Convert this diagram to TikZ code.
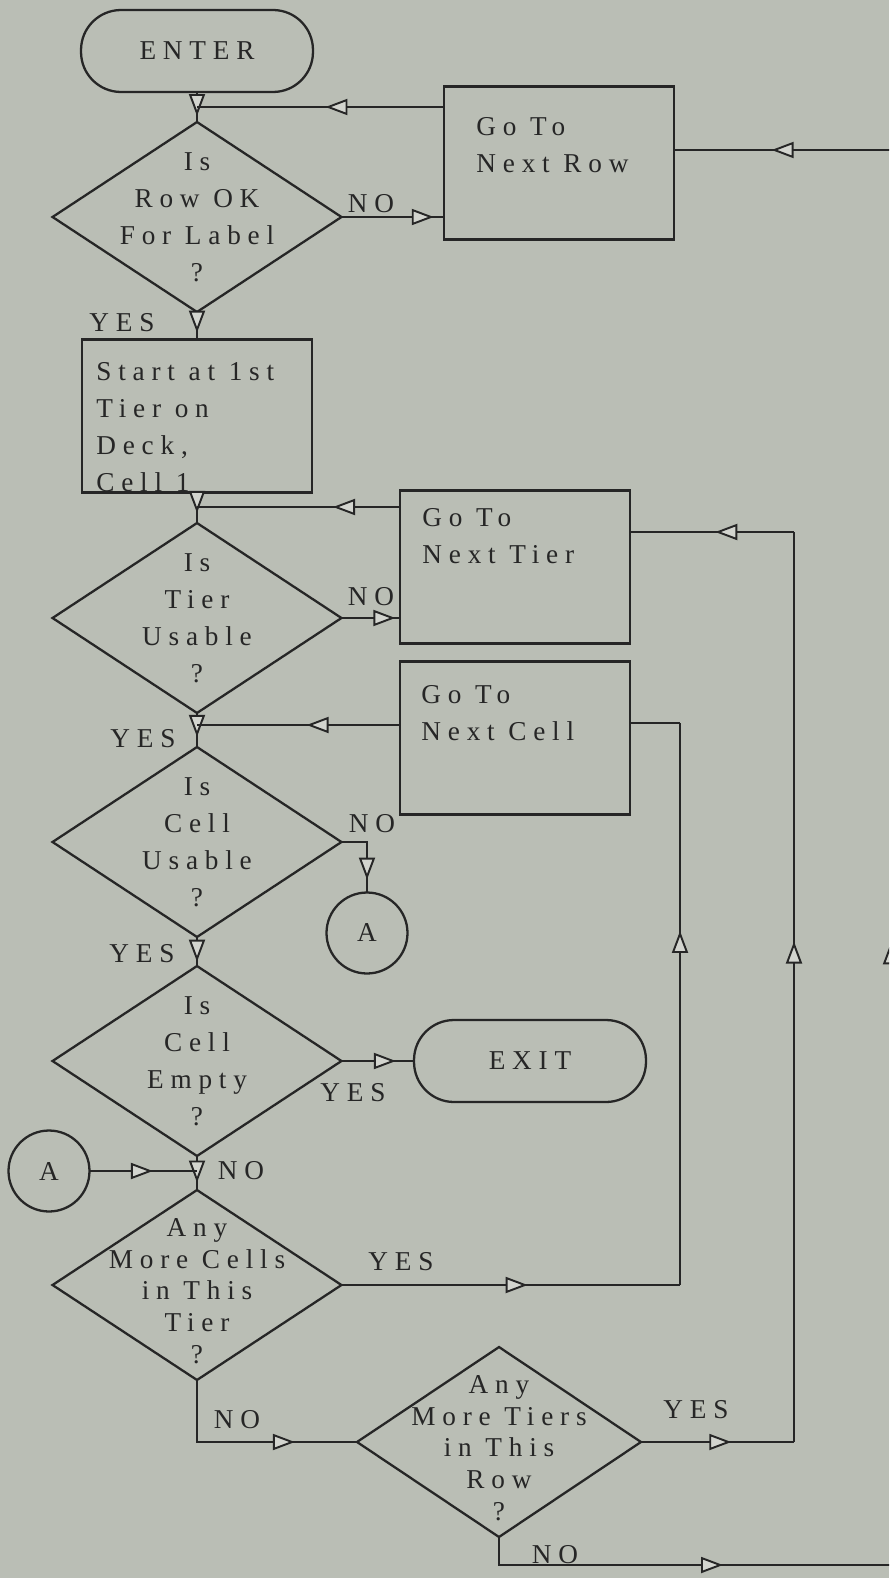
\documentclass[tikz,border=0pt]{standalone}
\usepackage{fontspec}
\setmainfont[LetterSpace=25]{Liberation Serif}
\usetikzlibrary{arrows.meta,shapes.geometric,decorations.markings}
\definecolor{paper}{HTML}{BABEB5}
\definecolor{ink}{HTML}{262626}
\definecolor{tipfill}{HTML}{D3D5CF}

\begin{document}
\begin{tikzpicture}[x=0.02cm,y=-0.02cm,>={Triangle[length=0.44cm,width=0.32cm,fill=tipfill]},
  every node/.style={font=\fontsize{15.5}{21}\selectfont,text=ink},
  flow/.style={draw=ink,line width=1.1pt},
  tipat/.style={postaction={decorate},decoration={markings,mark=at position #1 with {\arrow{>}}}},
  decision/.style={diamond,draw=ink,line width=1.3pt,minimum width=5.78cm,minimum height=3.8cm,inner sep=0pt,outer sep=0pt},
  procbox/.style={draw=ink,line width=1.3pt,minimum width=4.6cm,minimum height=3.06cm,inner sep=0pt,outer sep=0pt},
  terminal/.style={draw=ink,line width=1.3pt,rounded corners=0.8cm,minimum width=4.64cm,minimum height=1.64cm,outer sep=0pt},
  onpage/.style={circle,draw=ink,line width=1.3pt,minimum size=1.62cm,inner sep=0pt,outer sep=0pt},
  boxtext/.style={anchor=north west,align=left,inner sep=0pt},
  qtext/.style={align=center,inner sep=0pt},
  qfive/.style={align=center,inner sep=0pt,font=\fontsize{15.5}{18}\selectfont,yshift=-0.12cm},
  yn/.style={inner sep=0pt}]
\useasboundingbox (0,0) rectangle (889,1578);
\clip (0,0) rectangle (889,1578);
\fill[paper] (0,0) rectangle (889,1578);

\node[terminal] (enter) at (197,51) {ENTER};
\node[decision,label={[qtext]center:Is\\Row OK\\For Label\\?}] (d1) at (197,217) {};
\node[procbox,label={[boxtext,shift={(32,31)}]north west:Go To\\Next Row}] (rowbox) at (559,163) {};
\node[procbox,label={[boxtext,shift={(14,23)}]north west:Start at 1st\\Tier on\\Deck,\\Cell 1}] (start) at (197,416) {};
\node[decision,label={[qtext]center:Is\\Tier\\Usable\\?}] (d2) at (197,618) {};
\node[procbox,label={[boxtext,shift={(22,18)}]north west:Go To\\Next Tier}] (tierbox) at (515,567) {};
\node[procbox,label={[boxtext,shift={(21,24)}]north west:Go To\\Next Cell}] (cellbox) at (515,738) {};
\node[decision,label={[qtext]center:Is\\Cell\\Usable\\?}] (d3) at (197,842) {};
\node[onpage] (a1) at (367,933) {A};
\node[decision,label={[qtext]center:Is\\Cell\\Empty\\?}] (d4) at (197,1061) {};
\node[terminal] (exit) at (530,1061) {EXIT};
\node[onpage] (a2) at (49,1171) {A};
\node[decision,label={[qfive]center:Any\\More Cells\\in This\\Tier\\?}] (d5) at (197,1285) {};
\node[decision,minimum width=5.68cm,label={[qfive]center:Any\\More Tiers\\in This\\Row\\?}] (d6) at (499,1442) {};

\coordinate (j1) at (197,107);
\coordinate (j2) at (197,507);
\coordinate (j3) at (197,725);
\coordinate (j4) at (197,1171);
\coordinate (celltop) at (680,723);
\coordinate (cellbot) at (680,1285);
\coordinate (tiertop) at (794,532);
\coordinate (tierbot) at (794,1442);
\coordinate (rowtop) at (891,150);
\coordinate (rowbot) at (891,1565);

\draw[flow,tipat=0.8] (enter) -- (d1);
\draw[flow,tipat=0.48] (rowbox.west |- j1) -- (j1);
\draw[flow,tipat=0.9] (d1) -- (rowbox.west |- d1);
\draw[flow,tipat=0.75] (d1) -- (start);
\draw[flow,tipat=0.67] (start) -- (d2);
\draw[flow,tipat=0.33] (tierbox.west |- j2) -- (j2);
\draw[flow,tipat=0.92] (d2) -- (tierbox.west |- d2);
\draw[flow,tipat=0.7] (d2) -- (d3);
\draw[flow,tipat=0.46] (cellbox.west |- j3) -- (j3);
\draw[flow,tipat=0.83] (d3.east) -| (a1);
\draw[flow,tipat=0.85] (d3) -- (d4);
\draw[flow,tipat=0.75] (d4) -- (exit);
\draw[flow,tipat=0.78] (d4) -- (d5);
\draw[flow,tipat=0.59] (a2) -- (j4);
\draw[flow,tipat=0.55] (d5.east) -- (cellbot);
\draw[flow,tipat=0.63] (cellbot) -- (celltop);
\draw[flow] (celltop) -- (cellbox.east |- celltop);
\draw[flow,tipat=0.72] (d5.south) |- (d6.west);
\draw[flow,tipat=0.59] (d6.east) -- (tierbot);
\draw[flow,tipat=0.55] (tierbot) -- (tiertop);
\draw[flow,tipat=0.48] (tiertop) -- (tierbox.east |- tiertop);
\draw[flow,tipat=0.6] (d6.south) |- (rowbot);
\draw[flow,tipat=0.44] (rowbot) -- (rowtop);
\draw[flow,tipat=0.55] (rowtop) -- (rowbox.east |- rowtop);

\node[yn] (yes1) at (122,323) {YES};
\node[yn] (no1) at (371,204) {NO};
\node[yn] (no2) at (371,597) {NO};
\node[yn] (yes2) at (143,739) {YES};
\node[yn] (no3) at (372,824) {NO};
\node[yn] (yes3) at (142,954) {YES};
\node[yn] (yes4) at (353,1093) {YES};
\node[yn] (no4) at (241,1171) {NO};
\node[yn] (yes5) at (401,1262) {YES};
\node[yn] (no5) at (237,1420) {NO};
\node[yn] (yes6) at (696,1410) {YES};
\node[yn] (no6) at (555,1555) {NO};
\end{tikzpicture}
\end{document}
